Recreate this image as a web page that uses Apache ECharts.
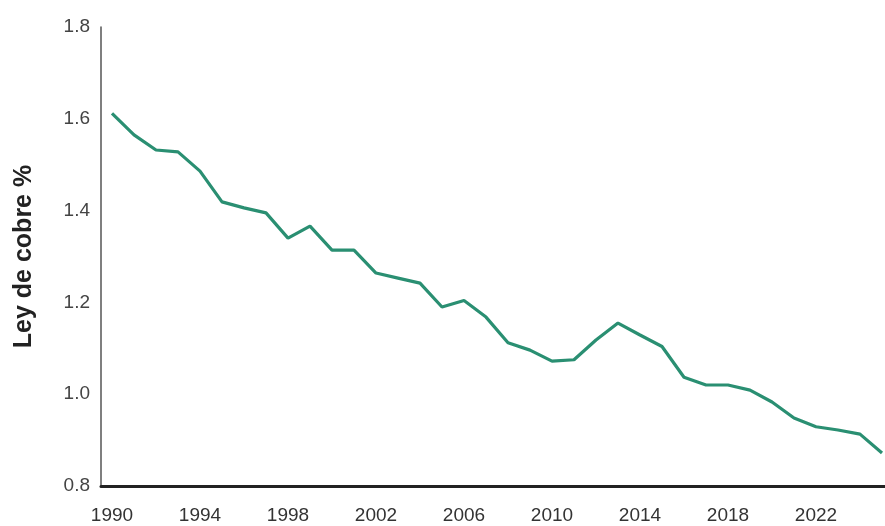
<!DOCTYPE html>
<html>
<head>
<meta charset="utf-8">
<script src="https://cdn.jsdelivr.net/npm/echarts@6/dist/echarts.min.js"></script>
<style>
  html, body { margin: 0; padding: 0; background: #fff; }
  #chart { width: 885px; height: 526px; }
</style>
</head>
<body>
<div id="chart"></div>
<script>
// años 1990 - 2025
const years = []
for (let y = 1990; y <= 2025; y++) years.push(String(y))

// ley de cobre (%)
const copperGrade = [
  1.612, 1.565, 1.532, 1.528, 1.486, 1.419, 1.406, 1.395, 1.340, 1.366,
  1.314, 1.314, 1.264, 1.253, 1.242, 1.190, 1.204, 1.168, 1.112, 1.096,
  1.072, 1.075, 1.118, 1.155, 1.129, 1.104, 1.037, 1.020, 1.020, 1.009,
  0.983, 0.948, 0.929, 0.922, 0.913, 0.872
]

const yTicks = [0.8, 1.0, 1.2, 1.4, 1.6, 1.8]

const myChart = echarts.init(document.getElementById('chart'))
myChart.setOption({
  animation: false,
  // el gráfico original está cortado a la derecha
  grid: { left: 101, width: 792, top: 27, bottom: 40, outerBoundsMode: 'none' },
  xAxis: {
    type: 'category',
    data: years,
    boundaryGap: true,
    axisLine: { lineStyle: { color: '#222', width: 3 } },
    axisTick: { interval: 0, length: 4, lineStyle: { color: '#aaa' } },
    axisLabel: {
      interval: 3,
      margin: 20,
      fontSize: 19,
      fontFamily: 'Liberation Sans',
      color: '#333'
    },
    splitLine: { show: false }
  },
  yAxis: {
    type: 'value',
    min: yTicks[0],
    max: yTicks[yTicks.length - 1],
    interval: 0.2,
    name: 'Ley de cobre %',
    nameLocation: 'middle',
    nameGap: 64,
    nameTextStyle: {
      fontSize: 25,
      fontWeight: 'bold',
      fontFamily: 'Liberation Sans',
      color: '#222'
    },
    axisLine: { show: true, lineStyle: { color: '#555', width: 1.5 } },
    axisTick: { show: false },
    axisLabel: {
      margin: 11,
      fontSize: 19,
      fontFamily: 'Liberation Sans',
      color: '#444',
      formatter: v => v.toFixed(1)
    },
    splitLine: { show: false }
  },
  series: [{
    type: 'line',
    data: copperGrade,
    symbol: 'none',
    lineStyle: { color: '#2a8f72', width: 3.2 }
  }]
})
</script>
</body>
</html>
